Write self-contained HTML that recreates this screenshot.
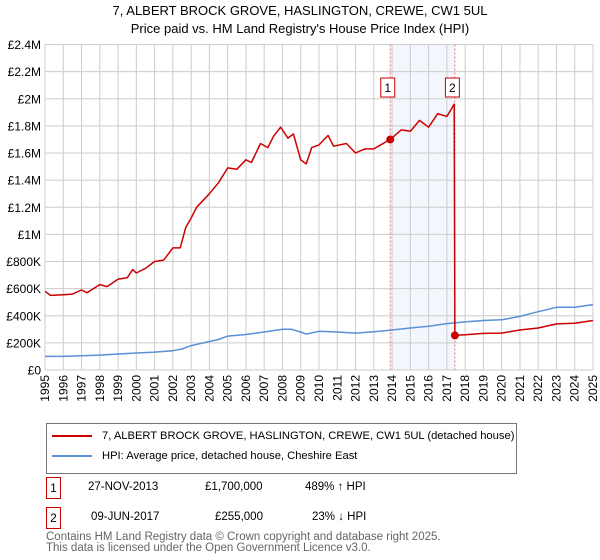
<!DOCTYPE html>
<html><head><meta charset="utf-8"><style>
body{margin:0;background:#fff;font-family:"Liberation Sans","DejaVu Sans",sans-serif;}
#wrap{position:relative;width:600px;height:560px;overflow:hidden;}
.t{position:absolute;white-space:nowrap;color:#000;}
</style></head><body>
<div id="wrap">
<div class="t" style="left:0;width:600px;text-align:center;top:3px;font-size:13px;">7, ALBERT BROCK GROVE, HASLINGTON, CREWE, CW1 5UL</div>
<div class="t" style="left:0;width:600px;text-align:center;top:21px;font-size:13px;">Price paid vs. HM Land Registry's House Price Index (HPI)</div>
<svg id="chart" width="600" height="420" style="position:absolute;left:0;top:0;"></svg>
<div style="position:absolute;left:46px;top:423px;width:471px;height:51px;border:1px solid #777;box-sizing:border-box;">
 <div style="position:absolute;left:5px;top:6px;font-size:11.2px;white-space:nowrap;"><span style="display:inline-block;width:40px;height:2px;background:#cc0000;vertical-align:middle;margin-right:10px;"></span>7, ALBERT BROCK GROVE, HASLINGTON, CREWE, CW1 5UL (detached house)</div>
 <div style="position:absolute;left:5px;top:26px;font-size:11.2px;white-space:nowrap;"><span style="display:inline-block;width:40px;height:2px;background:#5b8fd6;vertical-align:middle;margin-right:10px;"></span>HPI: Average price, detached house, Cheshire East</div>
</div>
<div>
 <div class="t" style="left:46px;top:477px;width:13px;height:20px;border:1px solid #cc0000;font-size:12px;text-align:center;line-height:20px;">1</div>
 <div class="t" style="left:88px;top:481px;font-size:11.5px;">27-NOV-2013</div>
 <div class="t" style="left:205px;top:481px;font-size:11.5px;">£1,700,000</div>
 <div class="t" style="left:305px;top:481px;font-size:11.5px;">489% ↑ HPI</div>
</div>
<div>
 <div class="t" style="left:46px;top:507px;width:13px;height:20px;border:1px solid #cc0000;font-size:12px;text-align:center;line-height:20px;">2</div>
 <div class="t" style="left:91px;top:511px;font-size:11.5px;">09-JUN-2017</div>
 <div class="t" style="left:215px;top:511px;font-size:11.5px;">£255,000</div>
 <div class="t" style="left:312px;top:511px;font-size:11.5px;">23% ↓ HPI</div>
</div>
<div class="t" style="left:46px;top:532px;font-size:11.5px;color:#666;line-height:11px;">Contains HM Land Registry data © Crown copyright and database right 2025.<br>This data is licensed under the Open Government Licence v3.0.</div>
</div>
<script>
const yTicks=[0,200000,400000,600000,800000,1000000,1200000,1400000,1600000,1800000,2000000,2200000,2400000];
const yTickLabels=["£0","£200K","£400K","£600K","£800K","£1M","£1.2M","£1.4M","£1.6M","£1.8M","£2M","£2.2M","£2.4M"];
const xYears=[1995,1996,1997,1998,1999,2000,2001,2002,2003,2004,2005,2006,2007,2008,2009,2010,2011,2012,2013,2014,2015,2016,2017,2018,2019,2020,2021,2022,2023,2024,2025];
const hpiDates=[1995,1996,1997,1998,1999,2000,2001,2002,2002.5,2003,2004,2004.5,2005,2006,2007,2008,2008.5,2009,2009.3,2010,2011,2012,2013,2014,2015,2016,2017,2018,2019,2020,2021,2022,2023,2024,2025];
const hpiValues=[100000,100000,105000,110000,118000,125000,132000,142000,155000,180000,210000,225000,250000,262000,280000,300000,300000,280000,265000,285000,280000,272000,282000,295000,310000,322000,342000,355000,365000,370000,395000,430000,462000,462000,482000];
const propDates=[1995,1995.3,1996,1996.5,1997,1997.3,1998,1998.4,1999,1999.5,1999.8,2000,2000.5,2001,2001.5,2002,2002.4,2002.7,2003,2003.3,2004,2004.5,2005,2005.5,2006,2006.3,2006.8,2007.2,2007.5,2007.9,2008.3,2008.6,2009,2009.3,2009.6,2010,2010.5,2010.8,2011.5,2012,2012.5,2013,2013.9,2014.5,2015,2015.5,2016,2016.5,2017,2017.4,2017.44,2018,2019,2020,2021,2022,2023,2024,2025];
const propValues=[580000,550000,555000,560000,590000,570000,630000,615000,670000,680000,740000,715000,750000,800000,810000,900000,900000,1050000,1120000,1200000,1300000,1380000,1490000,1480000,1550000,1530000,1670000,1640000,1720000,1790000,1710000,1740000,1550000,1520000,1640000,1660000,1730000,1650000,1670000,1600000,1630000,1630000,1700000,1770000,1760000,1840000,1790000,1890000,1870000,1960000,255000,260000,270000,272000,295000,310000,340000,345000,365000];
const saleDates=[2013.9,2017.44];
const saleValues=[1700000,255000];
const saleLabels=["1","2"];

const L=45,R=593,T=44.5,B=370;
const x=d=>L+(d-1995)/30*(R-L);
const y=v=>B-v/2400000*(B-T);
const svg=document.getElementById('chart');
const NS='http://www.w3.org/2000/svg';
function mk(tag,attrs){const e=document.createElementNS(NS,tag);for(const k in attrs)e.setAttribute(k,attrs[k]);svg.appendChild(e);return e;}
let e;
e=mk('rect',{x:x(saleDates[0]),y:T,width:x(saleDates[1])-x(saleDates[0]),height:B-T,fill:'#f3f6fd'});


xYears.forEach((yr,i)=>{
 let g=mk('line',{x1:x(yr),x2:x(yr),y1:T,y2:B,stroke:'#ccc','stroke-width':1});
 
 
 let t=mk('text',{x:0,y:0,'font-size':12,'text-anchor':'end',transform:`translate(${x(yr)+4},375) rotate(-90)`});
 t.textContent=yr;
 
 
});
yTicks.forEach((v,i)=>{
 let g=mk('line',{x1:L,x2:R,y1:y(v),y2:y(v),stroke:'#ccc','stroke-width':1});
 
 
 let t=mk('text',{x:41,y:y(v)+4.5,'font-size':12,'text-anchor':'end'});
 t.textContent=yTickLabels[i];
 
 
});
saleDates.forEach((d,i)=>{
 let l=mk('line',{x1:x(d),x2:x(d),y1:T,y2:B,stroke:'#f07070','stroke-width':1,'stroke-dasharray':'2,2'});
 
 
});
function path(ds,vs,col,w,name){
 let p=ds.map((d,i)=>(i?'L':'M')+x(d).toFixed(1)+','+y(vs[i]).toFixed(1)).join('');
 let e=mk('path',{d:p,fill:'none',stroke:col,'stroke-width':w,'stroke-linejoin':'round'});
 
 
}
path(hpiDates,hpiValues,'#5b8fd6',1.5,'hpi-line');
path(propDates,propValues,'#cc0000',1.5,'property-price-line');
saleDates.forEach((d,i)=>{
 let c=mk('circle',{cx:x(d),cy:y(saleValues[i]),r:4,fill:'#cc0000'});
 
 
 let bx=x(d)-7;
 let r=mk('rect',{x:bx-2.5,y:78,width:14,height:19,fill:'#fff',stroke:'#cc0000','stroke-width':1});
 
 
 let t=mk('text',{x:bx+4.5,y:92,'font-size':12,'text-anchor':'middle'});
 t.textContent=saleLabels[i];
 
 
});
</script>
</body></html>
